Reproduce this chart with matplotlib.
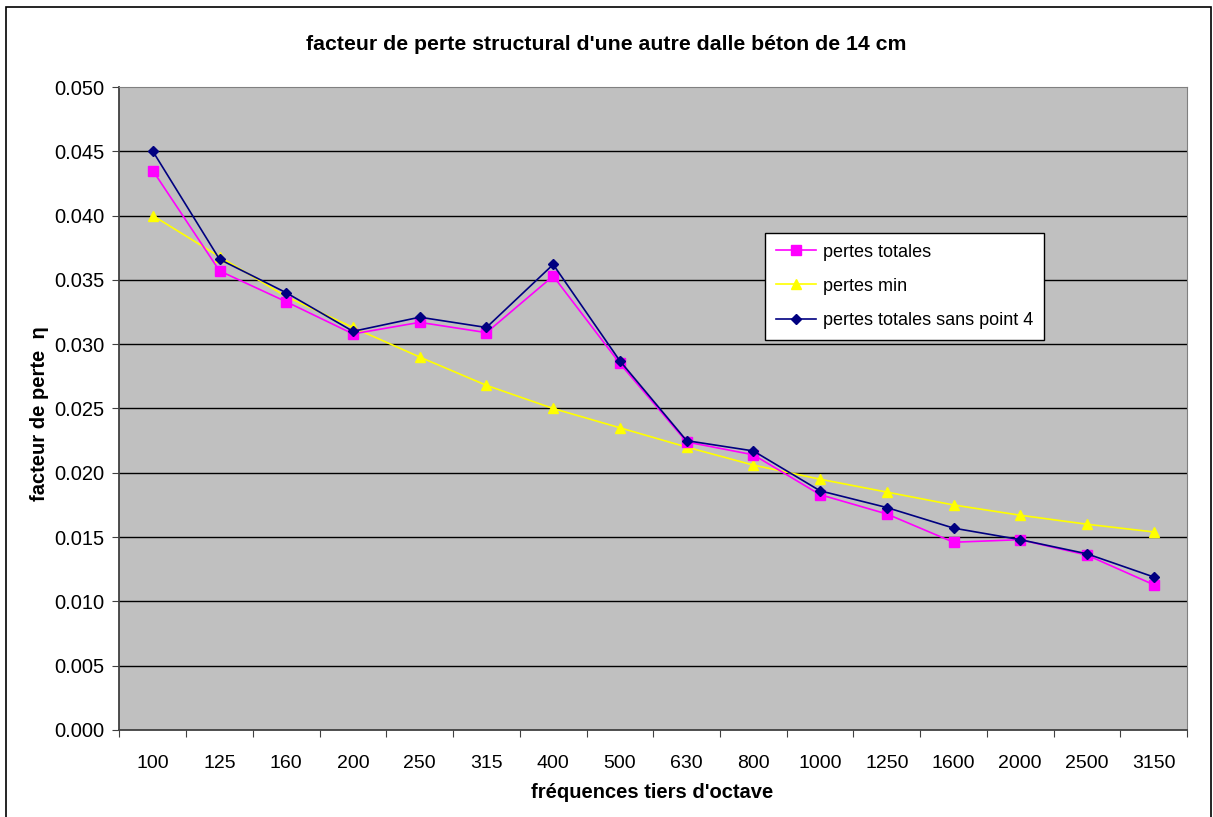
import numpy as np
import matplotlib
matplotlib.use("Agg")
import matplotlib.pyplot as plt
from matplotlib.patches import Rectangle

plt.rcParams["font.family"] = ["Liberation Sans", "DejaVu Sans"]

# third-octave bands and loss factors
freqs = ["100", "125", "160", "200", "250", "315", "400", "500",
         "630", "800", "1000", "1250", "1600", "2000", "2500", "3150"]
pertes_totales = [0.0435, 0.0357, 0.0333, 0.0308, 0.0317, 0.0309, 0.0353, 0.0285,
                  0.0224, 0.0214, 0.0183, 0.0168, 0.0146, 0.0148, 0.0136, 0.0113]
pertes_min = [0.0400, 0.0368, 0.0337, 0.0313, 0.0290, 0.0268, 0.0250, 0.0235,
              0.0220, 0.0206, 0.0195, 0.0185, 0.0175, 0.0167, 0.0160, 0.0154]
pertes_sans_pt4 = [0.0450, 0.0366, 0.0340, 0.0310, 0.0321, 0.0313, 0.0362, 0.0287,
                   0.0225, 0.0217, 0.0186, 0.0173, 0.0157, 0.0148, 0.0137, 0.0119]

fig = plt.figure(figsize=(12.13, 8.17), dpi=100)
# chart frame, open at the bottom edge of the image
fig.patches.append(Rectangle((6 / 1213, -10 / 817), 1205 / 1213, 820 / 817,
                             transform=fig.transFigure, fill=False,
                             edgecolor="black", linewidth=1.2))
ax = fig.add_axes([0.0985, 0.1065, 0.8801, 0.787])
ax.set_facecolor("#C0C0C0")

x = np.arange(len(freqs))
ax.plot(x, pertes_totales, color="#FF00FF", marker="s", markersize=6.5,
        linewidth=1.2, label="pertes totales", zorder=3)
ax.plot(x, pertes_min, color="#FFFF00", marker="^", markersize=7.5,
        linewidth=1.2, label="pertes min", zorder=2)
ax.plot(x, pertes_sans_pt4, color="#000080", marker="D", markersize=5.5,
        linewidth=1.2, label="pertes totales sans point 4", zorder=4)

# y axis
ax.set_ylim(0, 0.05)
ax.set_yticks(np.arange(0, 0.0501, 0.005))
ax.set_yticklabels([f"{v:.3f}" for v in np.arange(0, 0.0501, 0.005)])
for v in np.arange(0.005, 0.0499, 0.005):
    ax.axhline(v, color="black", linewidth=1.0, zorder=1)

# x axis: ticks between categories, labels in the middle
ax.set_xlim(-0.5, len(freqs) - 0.5)
ax.set_xticks(np.arange(-0.5, len(freqs), 1.0))
ax.set_xticklabels([])
ax.set_xticks(x, minor=True)
ax.set_xticklabels(freqs, minor=True)
ax.tick_params(axis="x", which="minor", length=0, pad=18, labelsize=14)
ax.tick_params(axis="x", which="major", length=5, direction="out", color="#404040")
ax.tick_params(axis="y", length=5, direction="out", color="#404040", labelsize=14.5, pad=6)

for side in ["top", "right"]:
    ax.spines[side].set_color("#808080")
for side in ["left", "bottom"]:
    ax.spines[side].set_color("#404040")
    ax.spines[side].set_linewidth(1.3)

fig.text(0.5, 0.945, "facteur de perte structural d'une autre dalle béton de 14 cm",
         ha="center", va="center", fontsize=15.3, fontweight="bold")
fig.text(652 / 1213, 1 - 792 / 817, "fréquences tiers d'octave",
         ha="center", va="center", fontsize=14.5, fontweight="bold")
fig.text(40 / 1213, 1 - 414 / 817, "facteur de perte  η", rotation=90,
         ha="center", va="center", fontsize=14.5, fontweight="bold")

leg = ax.legend(loc="upper left", bbox_to_anchor=(0.605, 0.7734), borderaxespad=0,
                fancybox=False, edgecolor="black", framealpha=1, fontsize=13,
                handlelength=2.2, handletextpad=0.4, labelspacing=0.95,
                borderpad=0.6)
leg.get_frame().set_linewidth(1.0)

fig.savefig("out.png", dpi=100)
